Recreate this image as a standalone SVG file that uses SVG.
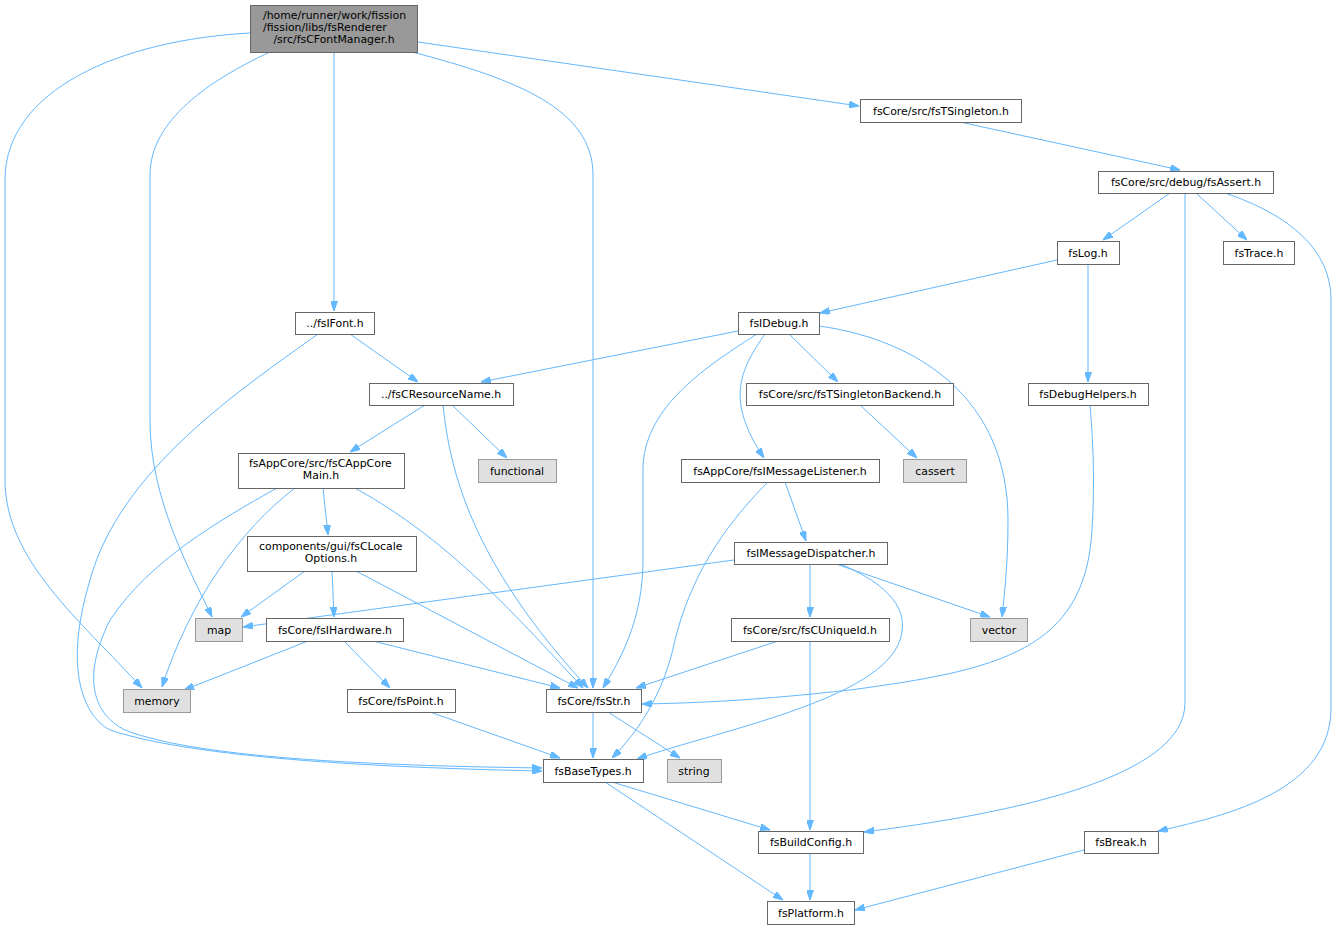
<svg xmlns="http://www.w3.org/2000/svg" width="1337" height="929" viewBox="0 0 1337 929">
<style>
text{font-family:"DejaVu Sans","Liberation Sans",sans-serif;font-size:10.9px;fill:#000}
.n rect{fill:#fff;stroke:#666;stroke-width:1}
.x rect{fill:#e0e0e0;stroke:#999;stroke-width:1}
.r rect{fill:#999;stroke:#666;stroke-width:1}
.m{text-anchor:middle}
#edges path{fill:none;stroke:#63b8ff;stroke-width:1;marker-end:url(#a)}
</style>
<defs>
<marker id="a" viewBox="0 0 10 7" refX="10" refY="3.5" markerWidth="10" markerHeight="7" markerUnits="userSpaceOnUse" orient="auto">
<path d="M0,0 L10,3.5 L0,7 z" fill="#63b8ff" stroke="#63b8ff"/>
</marker>
</defs>
<rect width="1337" height="929" fill="#fff"/>
<g id="edges">
<path d="M250,33 C120,40 5,90 5,180 L5,480 C5,560 80,620 142,688"/>
<path d="M270,52 C210,80 150,120 150,175 L150,420 C150,500 190,570 212,617"/>
<path d="M334,52 L334,311"/>
<path d="M412,52 C520,80 593,110 593,175 L593,688"/>
<path d="M418,42 L859,106"/>
<path d="M960,122 L1180,170"/>
<path d="M1170,193 L1103,240"/>
<path d="M1196,193 L1247,240"/>
<path d="M1185,193 L1185,703 C1185,780 1000,815 864,832"/>
<path d="M1225,193 C1290,215 1331,250 1331,300 L1331,708 C1331,790 1230,815 1158,831"/>
<path d="M1057,260 L820,313"/>
<path d="M1088,264 L1088,382"/>
<path d="M1090,405 C1093,440 1095,480 1092,530 C1085,650 1000,670 850,690 C760,700 700,703 642,704"/>
<path d="M738,331 L481,382"/>
<path d="M757,334 C700,370 643,410 643,470 L643,560 C643,620 620,660 603,688"/>
<path d="M765,334 C740,370 725,400 764,458"/>
<path d="M789,334 L838,382"/>
<path d="M819,326 C920,340 1008,400 1008,520 C1008,560 1005,590 1002,617"/>
<path d="M860,405 L917,458"/>
<path d="M350,334 L418,382"/>
<path d="M318,334 C240,390 120,470 90,580 C60,680 90,720 110,730 C200,760 400,768 542,771"/>
<path d="M425,405 L350,452"/>
<path d="M452,405 L507,458"/>
<path d="M443,405 C450,470 470,560 588,688"/>
<path d="M295,488 C240,530 190,600 162,687"/>
<path d="M277,488 C220,520 150,560 110,620 C80,680 95,715 125,730 C200,760 400,766 542,768"/>
<path d="M323,488 L328,535"/>
<path d="M355,488 C450,540 520,620 583,688"/>
<path d="M305,571 L241,617"/>
<path d="M332,571 L334,617"/>
<path d="M356,571 L578,688"/>
<path d="M308,641 L184,690"/>
<path d="M344,641 L390,688"/>
<path d="M373,641 L560,688"/>
<path d="M430,712 L560,758"/>
<path d="M593,712 L593,758"/>
<path d="M608,712 L680,758"/>
<path d="M768,482 C720,530 690,580 675,640 C665,690 640,730 612,758"/>
<path d="M785,482 L806,541"/>
<path d="M734,560 L243,627"/>
<path d="M810,564 L810,617"/>
<path d="M836,564 L990,617"/>
<path d="M840,564 C890,585 910,610 900,640 C880,700 720,730 637,759"/>
<path d="M778,641 L636,688"/>
<path d="M810,641 L810,830"/>
<path d="M612,782 L770,830"/>
<path d="M605,782 L783,900"/>
<path d="M810,853 L810,900"/>
<path d="M1084,850 L855,910"/>
</g>
<g id="root" class="r"><rect x="250.5" y="5.5" width="167" height="47"/><text x="263" y="19">/home/runner/work/fission</text><text x="263" y="31">/fission/libs/fsRenderer</text><text class="m" x="334" y="43">/src/fsCFontManager.h</text></g>
<g id="tsingleton" class="n"><rect x="860.5" y="99.5" width="161" height="23"/><text class="m" x="941" y="115">fsCore/src/fsTSingleton.h</text></g>
<g id="fsassert" class="n"><rect x="1098.5" y="171.5" width="175" height="22"/><text class="m" x="1186" y="186">fsCore/src/debug/fsAssert.h</text></g>
<g id="fslog" class="n"><rect x="1057.5" y="241.5" width="62" height="23"/><text class="m" x="1088" y="257">fsLog.h</text></g>
<g id="fstrace" class="n"><rect x="1223.5" y="241.5" width="71" height="23"/><text class="m" x="1259" y="257">fsTrace.h</text></g>
<g id="fsdebughelpers" class="n"><rect x="1028.5" y="383.5" width="120" height="22"/><text class="m" x="1088" y="398">fsDebugHelpers.h</text></g>
<g id="fsifont" class="n"><rect x="295.5" y="312.5" width="79" height="22"/><text class="m" x="335" y="327">../fsIFont.h</text></g>
<g id="fsidebug" class="n"><rect x="738.5" y="312.5" width="81" height="22"/><text class="m" x="779" y="327">fsIDebug.h</text></g>
<g id="fscresourcename" class="n"><rect x="369.5" y="383.5" width="144" height="22"/><text class="m" x="441" y="398">../fsCResourceName.h</text></g>
<g id="tsingletonbackend" class="n"><rect x="746.5" y="383.5" width="207" height="22"/><text class="m" x="850" y="398">fsCore/src/fsTSingletonBackend.h</text></g>
<g id="appcoremain" class="n"><rect x="238.5" y="453.5" width="166" height="35"/><text x="249" y="467">fsAppCore/src/fsCAppCore</text><text class="m" x="321" y="479">Main.h</text></g>
<g id="functional" class="x"><rect x="478.5" y="459.5" width="78" height="23"/><text class="m" x="517" y="475">functional</text></g>
<g id="msglistener" class="n"><rect x="681.5" y="459.5" width="198" height="23"/><text class="m" x="780" y="475">fsAppCore/fsIMessageListener.h</text></g>
<g id="cassert" class="x"><rect x="903.5" y="459.5" width="63" height="23"/><text class="m" x="935" y="475">cassert</text></g>
<g id="localeoptions" class="n"><rect x="247.5" y="536.5" width="169" height="35"/><text x="259" y="550">components/gui/fsCLocale</text><text class="m" x="331" y="562">Options.h</text></g>
<g id="msgdispatcher" class="n"><rect x="734.5" y="542.5" width="153" height="22"/><text class="m" x="811" y="557">fsIMessageDispatcher.h</text></g>
<g id="map" class="x"><rect x="195.5" y="618.5" width="47" height="23"/><text class="m" x="219" y="634">map</text></g>
<g id="fsihardware" class="n"><rect x="266.5" y="618.5" width="137" height="23"/><text class="m" x="335" y="634">fsCore/fsIHardware.h</text></g>
<g id="cuniqueid" class="n"><rect x="731.5" y="618.5" width="158" height="23"/><text class="m" x="810" y="634">fsCore/src/fsCUniqueId.h</text></g>
<g id="vector" class="x"><rect x="970.5" y="618.5" width="57" height="23"/><text class="m" x="999" y="634">vector</text></g>
<g id="memory" class="x"><rect x="123.5" y="689.5" width="67" height="23"/><text class="m" x="157" y="705">memory</text></g>
<g id="fspoint" class="n"><rect x="347.5" y="689.5" width="108" height="23"/><text class="m" x="401" y="705">fsCore/fsPoint.h</text></g>
<g id="fsstr" class="n"><rect x="546.5" y="689.5" width="95" height="23"/><text class="m" x="594" y="705">fsCore/fsStr.h</text></g>
<g id="fsbasetypes" class="n"><rect x="543.5" y="759.5" width="100" height="23"/><text class="m" x="593" y="775">fsBaseTypes.h</text></g>
<g id="string" class="x"><rect x="667.5" y="759.5" width="54" height="23"/><text class="m" x="694" y="775">string</text></g>
<g id="fsbuildconfig" class="n"><rect x="758.5" y="831.5" width="105" height="22"/><text class="m" x="811" y="846">fsBuildConfig.h</text></g>
<g id="fsbreak" class="n"><rect x="1084.5" y="831.5" width="74" height="22"/><text class="m" x="1121" y="846">fsBreak.h</text></g>
<g id="fsplatform" class="n"><rect x="767.5" y="901.5" width="87" height="23"/><text class="m" x="811" y="917">fsPlatform.h</text></g>
</svg>
